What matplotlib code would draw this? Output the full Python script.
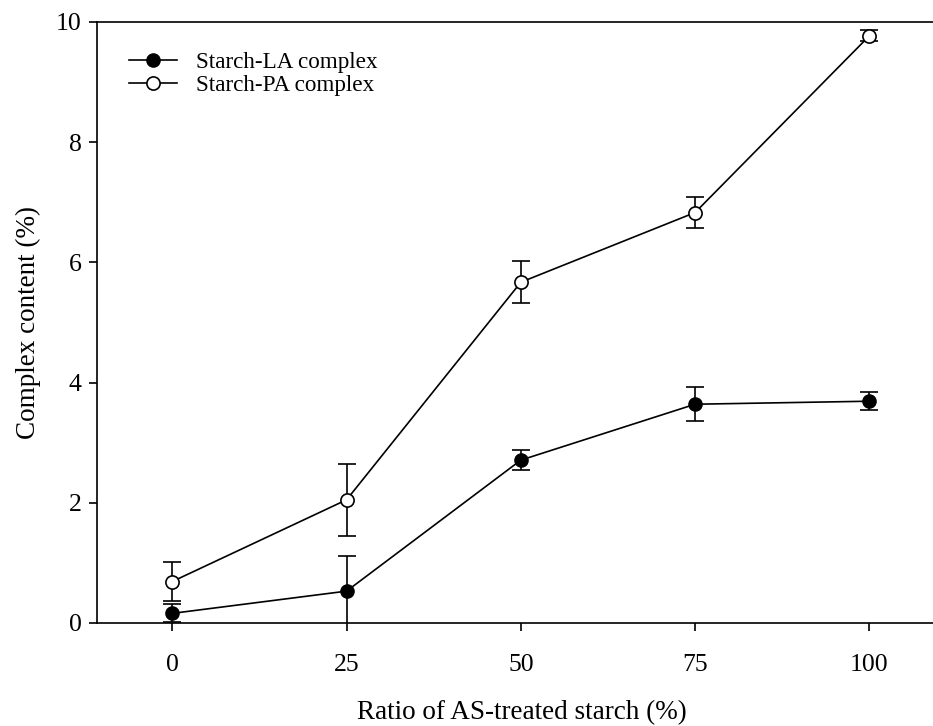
import matplotlib
matplotlib.use("Agg")
import matplotlib.pyplot as plt
import numpy as np

plt.rcParams['font.family'] = ['Liberation Serif', 'DejaVu Serif']

# data
ratio = [0, 25, 50, 75, 100]
la_mean = [0.16, 0.53, 2.71, 3.64, 3.69]
la_err = [0.15, 0.59, 0.17, 0.28, 0.15]
pa_mean = [0.69, 2.05, 5.67, 6.83, 9.77]
pa_err = [0.33, 0.60, 0.35, 0.25, 0.09]

fig = plt.figure(figsize=(9.33, 7.26), dpi=100)
ax = fig.add_axes([0.104, 0.1419, 0.910, 0.8278])

la = ax.errorbar(ratio, la_mean, yerr=la_err, color='black', marker='o', ms=9.5,
                 mfc='black', mec='black', lw=1.2, elinewidth=1.2, capsize=6.5,
                 capthick=1.2, zorder=3)
pa = ax.errorbar(ratio, pa_mean, yerr=pa_err, color='black', marker='o', ms=9.5,
                 mfc='white', mec='black', mew=1.2, lw=1.2, elinewidth=1.2, capsize=6.5,
                 capthick=1.2, zorder=3)

ax.set_xlim(-10.8, 111)
ax.set_ylim(0, 10)
ax.set_xticks(ratio)
ax.set_yticks([0, 2, 4, 6, 8, 10])
ax.tick_params(direction='out', length=6, width=1.2, labelsize=18.5)
ax.tick_params(axis='x', pad=16)
ax.tick_params(axis='y', pad=5)
for s in ax.spines.values():
    s.set_linewidth(1.2)

ax.set_xlabel('Ratio of AS-treated starch (%)', fontsize=19.5, labelpad=18)
ax.set_ylabel('Complex content (%)', fontsize=19.5, labelpad=11)

leg = ax.legend([la[0], pa[0]], ['Starch-LA complex', 'Starch-PA complex'],
                loc='upper left', frameon=False, fontsize=16.7, handlelength=2.1,
                bbox_to_anchor=(0.018, 0.978), handletextpad=0.8,
                labelspacing=0.1, borderaxespad=0.3)

fig.savefig('out.png', dpi=100)
